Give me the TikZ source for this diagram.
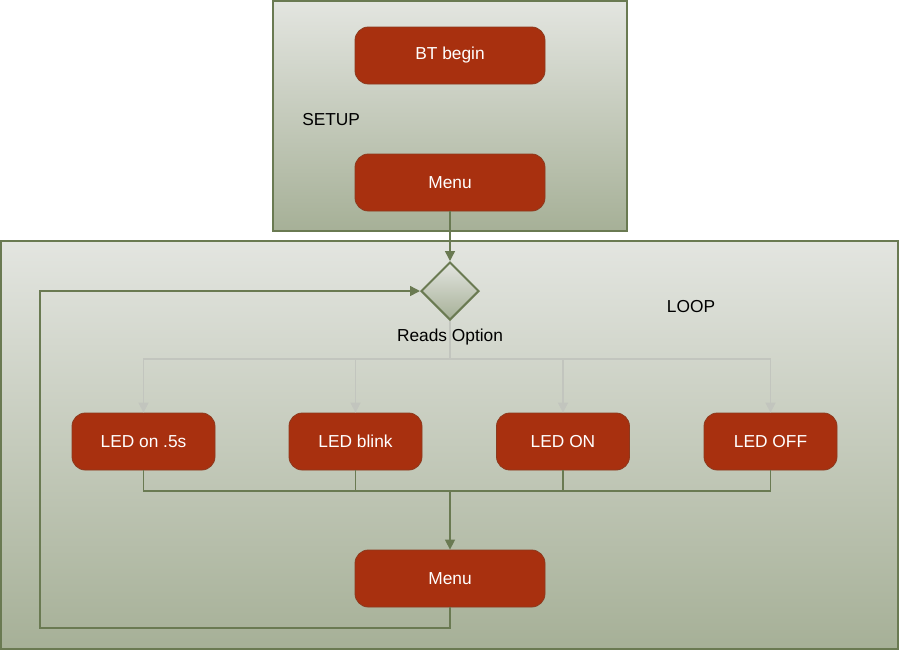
\documentclass[tikz,border=0pt]{standalone}
\usepackage{fontspec}
\setmainfont{Liberation Sans}
\usetikzlibrary{arrows.meta,shapes.geometric}
\definecolor{frame}{HTML}{6A7A52}
\definecolor{boxred}{HTML}{A8300F}
\definecolor{boxedge}{HTML}{8C3A1E}
\definecolor{shtop}{HTML}{E3E5E0}
\definecolor{shbot}{HTML}{A6B097}
\definecolor{grayline}{HTML}{C2C5BE}
\tikzset{
  panel/.style={draw=frame, line width=1.5pt, top color=shtop, bottom color=shbot},
  redbox/.style={draw=boxedge, line width=0.6pt, fill=boxred, rounded corners=10pt,
    text=white, font=\fontsize{13}{15}\selectfont, minimum height=42.75pt, inner sep=0pt},
  plain/.style={font=\fontsize{13}{15}\selectfont, text=black, inner sep=0pt},
  greenline/.style={draw=frame, line width=1.1pt},
  grayconn/.style={draw=grayline, line width=1.1pt},
  tip/.style={-{Triangle[length=7.5pt,width=7.5pt]}},
  decision/.style={diamond, draw=frame, line width=1.5pt, top color=shtop, bottom color=shbot,
    minimum width=43.5pt, minimum height=43.5pt, inner sep=0pt, aspect=1}
}
\begin{document}
\begin{tikzpicture}[x=0.75pt,y=-0.75pt]
\useasboundingbox (0,0) rectangle (900,651);
% panels
\path[panel] (273,1) rectangle (627,231);
\path[panel] (1,241) rectangle (898,649);
% setup nodes
\node[redbox, minimum width=142.5pt] (bt) at (450,55.5) {BT begin};
\node[redbox, minimum width=142.5pt] (menu1) at (450,182.5) {Menu};
\node[plain, anchor=west] (setup) at (302,120) {SETUP};
% loop
\node[decision] (dec) at (450,291) {};
\node[plain] (reads) at (450,337) {Reads Option};
\node[plain] (loop) at (691,307) {LOOP};
\node[redbox, minimum width=107.25pt] (led1) at (143.5,441.5) {LED on .5s};
\node[redbox, minimum width=99.75pt] (led2) at (355.5,441.5) {LED blink};
\node[redbox, minimum width=99.75pt] (led3) at (563,441.5) {LED ON};
\node[redbox, minimum width=99.75pt] (led4) at (770.5,441.5) {LED OFF};
\node[redbox, minimum width=142.5pt] (menu2) at (450,578.5) {Menu};
\coordinate (split) at (450,359);
\coordinate (join) at (450,491);
\coordinate (back) at (450,628);
% connectors
\draw[greenline, tip] (menu1.south) -- (dec.north);
\draw[grayconn] (dec.south) -- (split);
\draw[grayconn, tip] (split) -| (led1.north);
\draw[grayconn, tip] (split) -| (led2.north);
\draw[grayconn, tip] (split) -| (led3.north);
\draw[grayconn, tip] (split) -| (led4.north);
\draw[greenline] (led1.south) |- (join);
\draw[greenline] (led2.south) |- (join);
\draw[greenline] (led3.south) |- (join);
\draw[greenline] (led4.south) |- (join);
\draw[greenline, tip] (join) -- (menu2.north);
\draw[greenline, tip] (menu2.south) -- (back) -| (40,291) -- (dec.west);
\end{tikzpicture}
\end{document}
